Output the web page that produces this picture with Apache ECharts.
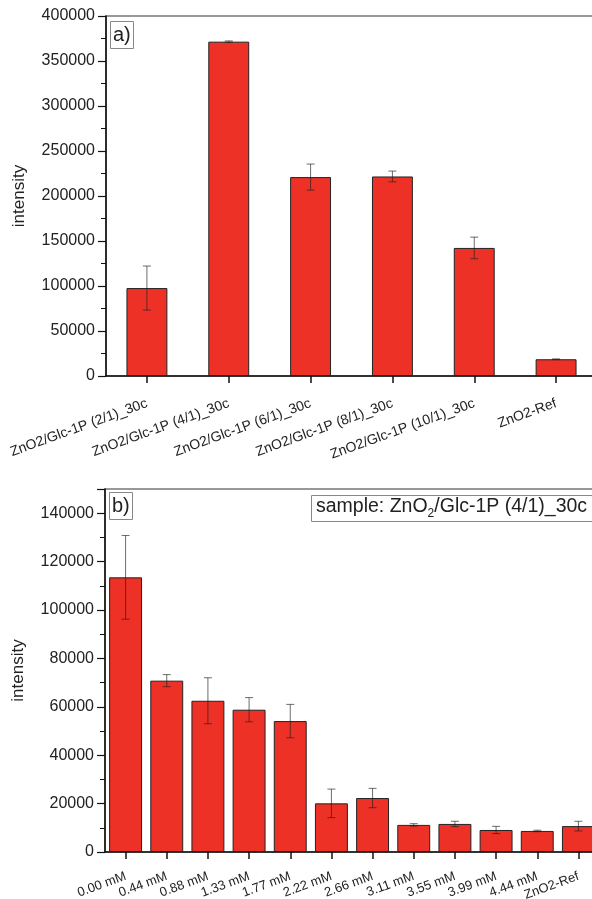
<!DOCTYPE html>
<html><head><meta charset="utf-8">
<script src="https://cdn.jsdelivr.net/npm/echarts@6/dist/echarts.min.js"></script>
<style>html,body{margin:0;padding:0;background:#fff}#c{width:592px;height:899px}</style>
</head><body><div id="c"></div>
<script>
// Panel a
const catsA = ['ZnO2/Glc-1P (2/1)_30c','ZnO2/Glc-1P (4/1)_30c','ZnO2/Glc-1P (6/1)_30c','ZnO2/Glc-1P (8/1)_30c','ZnO2/Glc-1P (10/1)_30c','ZnO2-Ref'];
const valsA = [97700, 371500, 221000, 221700, 142300, 18600];
const errA  = [24500, 800, 14500, 6000, 12000, 400];
// Panel b
const catsB = ['0.00 mM','0.44 mM','0.88 mM','1.33 mM','1.77 mM','2.22 mM','2.66 mM','3.11 mM','3.55 mM','3.99 mM','4.44 mM','ZnO2-Ref'];
const valsB = [113500, 70800, 62500, 58800, 54100, 20100, 22300, 11200, 11600, 9100, 8700, 10700];
const errB  = [17300, 2500, 9500, 5000, 6900, 5900, 4000, 500, 1100, 1500, 300, 2000];
// axis ranges
const yA = {min: 0, max: 400000, interval: 50000};
const yB = {min: 0, max: 150000, interval: 20000};

const FONT = 'Liberation Sans, Arial, sans-serif';
const TXT = '#222';
const RED = '#ee3127';

function errRender(params, api) {
  const i = api.value(0), v = api.value(1), e = api.value(2);
  const t = api.coord([i, v + e]);
  const b = api.coord([i, v - e]);
  const hw = 4;
  const st = {stroke: 'rgba(30,30,30,0.65)', lineWidth: 1};
  return {type: 'group', children: [
    {type: 'line', shape: {x1: t[0], y1: t[1], x2: b[0], y2: b[1]}, style: st},
    {type: 'line', shape: {x1: t[0] - hw, y1: t[1], x2: t[0] + hw, y2: t[1]}, style: st},
    {type: 'line', shape: {x1: b[0] - hw, y1: b[1], x2: b[0] + hw, y2: b[1]}, style: st}
  ]};
}

function xAxisCfg(cats, gi, margin, fs) {
  return {
    type: 'category', gridIndex: gi, data: cats,
    axisLine: {lineStyle: {color: '#111', width: 1.5}},
    axisTick: {show: true, alignWithLabel: true, length: 7, lineStyle: {color: '#111', width: 1.5}},
    axisLabel: {rotate: 20, interval: 0, margin: margin, fontFamily: FONT, fontSize: fs, color: TXT}
  };
}
function yAxisCfg(r, gi) {
  return {
    type: 'value', gridIndex: gi, min: r.min, max: r.max, interval: r.interval,
    name: 'intensity', nameLocation: 'middle', nameGap: 78,
    nameTextStyle: {fontFamily: FONT, fontSize: 17, color: TXT},
    axisLine: {show: true, lineStyle: {color: '#111', width: 1.5}},
    axisTick: {show: true, length: 8, lineStyle: {color: '#111', width: 1.2}},
    minorTick: {show: true, splitNumber: 2, length: 5, lineStyle: {color: '#111', width: 1}},
    splitLine: {show: false},
    axisLabel: {margin: 11, fontFamily: FONT, fontSize: 16, color: TXT, showMaxLabel: gi === 0,
      formatter: v => String(v)}
  };
}

const chart = echarts.init(document.getElementById('c'), null, {renderer: 'canvas'});
chart.setOption({
  backgroundColor: '#fff',
  animation: false,
  title: [
    {text: 'a)', left: 110, top: 21, padding: [4, 3, 4, 3], borderColor: '#888', borderWidth: 1,
     textStyle: {fontFamily: FONT, fontSize: 20, fontWeight: 'normal', color: TXT}},
    {text: 'b)', left: 109, top: 492, padding: [4, 3, 4, 3], borderColor: '#888', borderWidth: 1,
     textStyle: {fontFamily: FONT, fontSize: 20, fontWeight: 'normal', color: TXT}},
    {text: '{m|sample: ZnO}{s|2}{m|/Glc-1P (4/1)_30c}', left: 311, top: 492, padding: [2, 30, 2, 5],
     borderColor: '#888', borderWidth: 1, backgroundColor: '#fff',
     textStyle: {fontFamily: FONT, fontSize: 19.5, fontWeight: 'normal', color: TXT,
       rich: {
         m: {fontFamily: FONT, fontSize: 19.5, color: TXT, lineHeight: 22, verticalAlign: 'middle'},
         s: {fontFamily: FONT, fontSize: 12, color: TXT, lineHeight: 26, verticalAlign: 'bottom'}
       }}}
  ],
  grid: [
    {left: 106, top: 16, width: 491, height: 360, show: true, borderColor: '#333', borderWidth: 1.2,
     containLabel: false, outerBoundsMode: 'none'},
    {left: 105, top: 489, width: 494, height: 363, show: true, borderColor: '#333', borderWidth: 1.2,
     containLabel: false, outerBoundsMode: 'none'}
  ],
  xAxis: [xAxisCfg(catsA, 0, 27, 14), xAxisCfg(catsB, 1, 24, 13)],
  yAxis: [yAxisCfg(yA, 0), yAxisCfg(yB, 1)],
  series: [
    {type: 'bar', xAxisIndex: 0, yAxisIndex: 0, data: valsA, barWidth: '50%',
     itemStyle: {color: RED, borderColor: '#222', borderWidth: 1}},
    {type: 'custom', xAxisIndex: 0, yAxisIndex: 0, renderItem: errRender, z: 5,
     encode: {x: 0, y: 1}, data: valsA.map((v, i) => [i, v, errA[i]])},
    {type: 'bar', xAxisIndex: 1, yAxisIndex: 1, data: valsB, barWidth: '80%',
     itemStyle: {color: RED, borderColor: '#222', borderWidth: 1}},
    {type: 'custom', xAxisIndex: 1, yAxisIndex: 1, renderItem: errRender, z: 5,
     encode: {x: 0, y: 1}, data: valsB.map((v, i) => [i, v, errB[i]])}
  ]
});
</script></body></html>
